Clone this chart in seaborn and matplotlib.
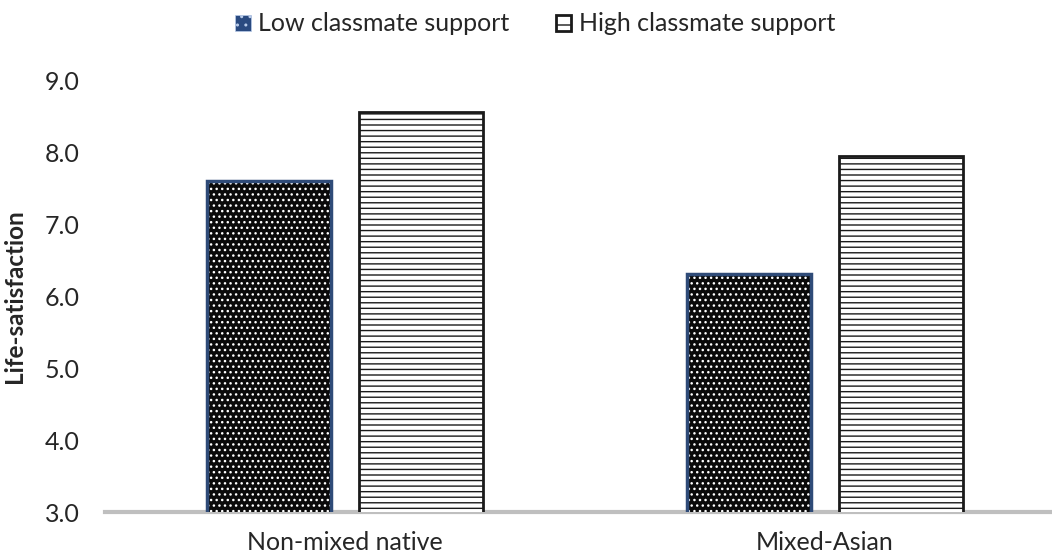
import matplotlib
matplotlib.use("Agg")
import matplotlib.pyplot as plt
import seaborn as sns
import pandas as pd
from matplotlib.patches import Rectangle, Patch

groups = ["Non-mixed native", "Mixed-Asian"]
support = ["Low classmate support", "High classmate support"]
low_values = [7.6, 6.3]
high_values = [8.55, 7.94]
y_ticks = [3.0, 4.0, 5.0, 6.0, 7.0, 8.0, 9.0]

df = pd.DataFrame({
    "group": groups * 2,
    "support": [support[0]] * 2 + [support[1]] * 2,
    "value": low_values + high_values,
})

sns.set_style("white")
plt.rcParams["font.family"] = ["Lato", "DejaVu Sans"]
plt.rcParams["hatch.linewidth"] = 1.0

fig = plt.figure(figsize=(10.52, 5.57), dpi=100)
ax = fig.add_axes([105 / 1052, 45 / 557, 960 / 1052, 432 / 557])

sns.barplot(data=df, x="group", y="value", hue="support", hue_order=support,
            order=groups, width=0.633, gap=0.178, ax=ax, legend=False)

ax.set_ylim(3, 9)
ax.set_xlim(-0.5, 1.5)

# dotted dark bars for low support, outlined in navy
low_bars = ax.patches[:2]
high_bars = ax.patches[2:4]
for p in low_bars:
    p.set_facecolor("#0a0a0a")
    p.set_edgecolor("white")
    p.set_hatch("...")
    p.set_linewidth(0)
    ax.add_patch(Rectangle(p.get_xy(), p.get_width(), p.get_height(),
                           fill=False, edgecolor="#2f4b78", linewidth=2.5, zorder=p.get_zorder() + 0.1))
for p in high_bars:
    p.set_facecolor("white")
    p.set_edgecolor("#1a1a1a")
    p.set_hatch("---")
    p.set_linewidth(2)

ax.set_yticks(y_ticks)
ax.set_yticklabels([f"{t:.1f}" for t in y_ticks], fontsize=18, color="#262626")
ax.tick_params(axis="y", length=0, pad=18)
ax.tick_params(axis="x", length=0, pad=14, labelsize=18, labelcolor="#262626")
ax.set_xlabel("")
ax.set_ylabel("Life-satisfaction", fontsize=17.5, fontweight="bold", labelpad=14)

for s in ["left", "right", "top"]:
    ax.spines[s].set_visible(False)
ax.spines["bottom"].set_color("#bfbfbf")
ax.spines["bottom"].set_linewidth(3)
ax.spines["bottom"].set_zorder(0.5)

handles = [
    Patch(facecolor="#2a4a80", edgecolor="#b8cbea", hatch="..", linewidth=0.5, label=support[0]),
    Patch(facecolor="white", edgecolor="#1a1a1a", hatch="-", linewidth=2, label=support[1]),
]
fig.legend(handles=handles, loc="upper center", bbox_to_anchor=(0.5085, 1.018), ncol=2,
           frameon=False, fontsize=18, handlelength=0.62, handleheight=0.62,
           handletextpad=0.3, columnspacing=1.85, labelcolor="#262626")

fig.savefig("out.png", dpi=100)
